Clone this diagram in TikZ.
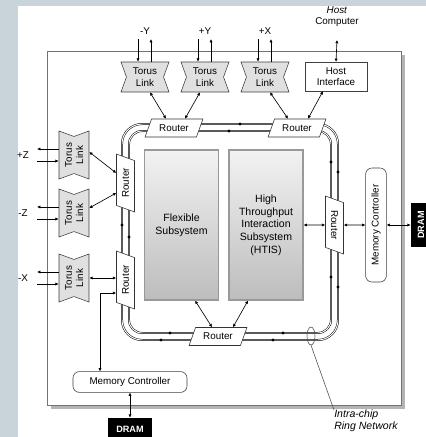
\documentclass[tikz,border=0pt]{standalone}
\usepackage{fontspec}
\setmainfont{Liberation Sans}
\usepackage{tikz}
\usetikzlibrary{shapes.geometric,shapes.symbols,arrows.meta,positioning}
\definecolor{ANBack}{HTML}{C9D3DA}
\definecolor{ANLink}{HTML}{E0E0E0}
\definecolor{ANShadow}{HTML}{B4B4B4}
\begin{document}
\begin{tikzpicture}[x=0.025cm,y=-0.025cm,
  every node/.style={inner sep=0pt,font=\fontsize{7}{8}\selectfont},
  torus/.style={signal,signal to=nowhere,signal from=west and east,signal pointer angle=140,
    draw=black!75,fill=ANLink,minimum width=1.2cm,minimum height=0.75cm,align=center},
  router/.style={trapezium,trapezium left angle=58,trapezium right angle=122,trapezium stretches=true,
    draw=black!80,fill=white,minimum width=1.45cm,minimum height=0.45cm},
  hostbox/.style={draw=black!75,fill=white,minimum width=1.55cm,minimum height=0.72cm,align=center},
  subsys/.style={draw=black!40,line width=0.8pt,top color=black!5,bottom color=black!26,
    minimum width=1.85cm,minimum height=3.75cm,align=center,font=\fontsize{7.5}{9}\selectfont},
  memctl/.style={draw=black!75,fill=white,rounded corners=0.16cm,minimum width=2.85cm,minimum height=0.52cm},
  dram/.style={fill=black,text=white,minimum width=1.1cm,minimum height=0.55cm,font=\fontsize{6.5}{7}\selectfont\bfseries},
  ringline/.style={line width=0.35pt,double=white,double distance=0.7pt},
  conn/.style={{Latex[length=2.3pt,width=2.3pt]}-{Latex[length=2.3pt,width=2.3pt]},line width=0.45pt},
  ext/.style={-{Latex[length=2.4pt,width=2.3pt]},line width=0.45pt}]
\path[use as bounding box] (0,0) rectangle (426,437);
\fill[ANBack] (0,0) rectangle (426,437);
\fill[white] (18,6) rectangle (426,437);
\fill[ANShadow] (51,55) rectangle (405,409);
\draw[black!55,fill=white] (47,51) rectangle (401,405);
\draw[ringline,rounded corners=0.5cm] (122,124) rectangle (338,340);
\draw[ringline,rounded corners=0.33cm] (129,131) rectangle (331,333);
\foreach \p in {(240,124),(229,131),(122,225),(129,237),(331,162),(338,172),(331,277),(338,287),(170,333),(161,340),(283,333),(273,340)}
  \fill \p circle (0.04cm);
\node[subsys] (flex) at (181.5,225) {Flexible\\Subsystem};
\node[subsys] (htis) at (266,225) {High\\Throughput\\Interaction\\Subsystem\\(HTIS)};
\node[router] (rtrA) at (174,128) {Router};
\node[router] (rtrB) at (297,128) {Router};
\node[router] (rtrC) at (218,336.5) {Router};
\node[router,rotate=90] (rtrD) at (125.5,183) {Router};
\node[router,rotate=90] (rtrE) at (125.5,280) {Router};
\node[router,rotate=-90] (rtrF) at (334.5,225) {Router};
\node[torus] (lnkmy) at (145,77) {Torus\\Link};
\node[torus] (lnkpy) at (205,77) {Torus\\Link};
\node[torus] (lnkpx) at (265,77) {Torus\\Link};
\node[hostbox] (host) at (336,76.5) {Host\\Interface};
\node[torus,rotate=90] (lnkpz) at (74,155) {Torus\\Link};
\node[torus,rotate=90] (lnkmz) at (74,213) {Torus\\Link};
\node[torus,rotate=90] (lnkmx) at (74,278) {Torus\\Link};
\node[memctl] (mcB) at (130,382) {Memory Controller};
\node[memctl,rotate=90] (mcR) at (376,225) {Memory Controller};
\node[dram] (dramB) at (130,429) {DRAM};
\node[dram,rotate=90,minimum height=0.5cm] (dramR) at (421,225) {DRAM};
\foreach \n/\x/\t in {lnkmy/145/-Y,lnkpy/205/+Y,lnkpx/265/+X} {
  \node (\n-lbl) at (\x,31) {\t};
  \coordinate (\n-end) at (\x,39);
  \draw[ext] ([xshift=-0.175cm]\n-end) -- ([xshift=-0.175cm]\n.north);
  \draw[ext] ([xshift=0.15cm]\n.north) -- ([xshift=0.15cm]\n-end);
}
\foreach \n/\y/\t in {lnkpz/155/+Z,lnkmz/213/-Z,lnkmx/278/-X} {
  \node (\n-lbl) at (23,\y) {\t};
  \coordinate (\n-end) at (37,\y);
  \draw[ext] ([yshift=0.15cm]\n.north) -- ([yshift=0.15cm]\n-end);
  \draw[ext] ([yshift=-0.15cm]\n-end) -- ([yshift=-0.15cm]\n.north);
}
\node[align=center] (hostpc) at (337,17) {\textit{Host}\\Computer};
\coordinate (hostpc-end) at (337,40);
\draw[conn] (hostpc-end) -- (host.north);
\draw[conn] ([xshift=0.125cm]lnkmy.south) -- ([xshift=-0.2cm]rtrA.north);
\draw[conn] ([xshift=-0.125cm]lnkpy.south) -- ([xshift=0.275cm]rtrA.north);
\draw[conn] ([xshift=0.125cm]lnkpx.south) -- ([xshift=-0.225cm]rtrB.north);
\draw[conn] ([xshift=-0.325cm]host.south) -- ([xshift=0.275cm]rtrB.north);
\draw[conn] ([yshift=0.075cm]lnkpz.south) -- ([yshift=0.25cm]rtrD.north);
\draw[conn] ([yshift=0.125cm]lnkmz.south) -- ([yshift=-0.25cm]rtrD.north);
\draw[conn] (lnkmx.south) -- (lnkmx.south -| rtrE.north);
\draw[conn] ([yshift=-0.325cm]rtrE.north) -| ([xshift=-0.75cm]mcB.north);
\draw[conn] (mcB.south) -- (dramB.north);
\draw[conn] ([xshift=0.34cm]flex.south) -- ([xshift=-0.15cm]rtrC.north);
\draw[conn] ([xshift=-0.45cm]htis.south) -- ([xshift=0.375cm]rtrC.north);
\draw[conn] (htis.east) -- (rtrF.south);
\draw[conn] (rtrF.north) -- (mcR.north);
\draw[conn] (mcR.south) -- (dramR.north);
\node[draw=black!70,ellipse,line width=0.4pt,minimum width=0.2cm,minimum height=0.45cm] (ringtag) at (311,336) {};
\node[anchor=north west,align=left,font=\fontsize{7.5}{8.5}\selectfont\itshape] (ringlbl) at (334,410) {Intra-chip\\Ring Network};
\draw[black!70,line width=0.4pt] (ringtag.south) -- (ringlbl.north west);
\end{tikzpicture}
\end{document}
